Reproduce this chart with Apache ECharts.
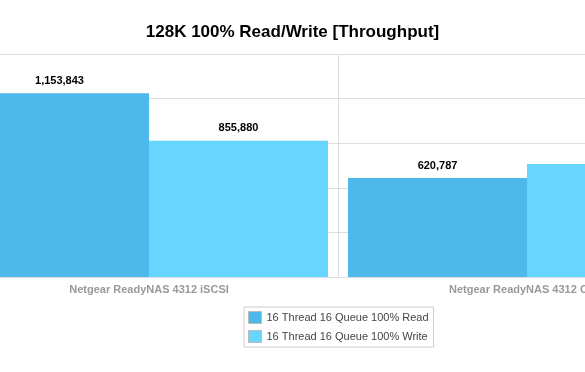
<!DOCTYPE html>
<html><head><meta charset="utf-8">
<script src="https://cdn.jsdelivr.net/npm/echarts@6/dist/echarts.min.js"></script>
<style>html,body{margin:0;padding:0;background:#fff}#c{width:585px;height:372px}</style>
</head><body><div id="c"></div>
<script>
var categories = ["Netgear ReadyNAS 4312 iSCSI", "Netgear ReadyNAS 4312 CIFS"];
var seriesNames = ["16 Thread 16 Queue 100% Read", "16 Thread 16 Queue 100% Write"];
var readValues = [1153843, 620787];
var writeValues = [855880, 710000];
var colors = ["#4DB9EB", "#66D6FF"];

var chart = echarts.init(document.getElementById('c'));
var ff = '"Liberation Sans", Arial, Helvetica, sans-serif';
function fmt(p){ return p.value.toLocaleString('en-US'); }
var label = {show:true, position:'top', distance:7, formatter:fmt, color:'#000', fontWeight:'bold', fontSize:11, fontFamily:ff};
chart.setOption({
  animation:false,
  title:{text:'128K 100% Read/Write [Throughput]', left:'center', top:19,
    textStyle:{fontSize:17, fontWeight:'bold', color:'#000', fontFamily:ff}},
  grid:{left:-40, width:756, top:54, bottom:95, containLabel:false, outerBoundsMode:'none'},
  legend:{orient:'vertical', left:244, top:307, itemWidth:13, itemHeight:12, itemGap:6,
    padding:[4,5,4,4], borderColor:'#ccc', borderWidth:1, backgroundColor:'#fff',
    icon:'rect', data:seriesNames,
    itemStyle:{borderColor:'#bbb', borderWidth:1},
    textStyle:{fontSize:11, color:'#444', fontFamily:ff}},
  xAxis:{type:'category', data:categories,
    axisLine:{lineStyle:{color:'#ddd'}}, axisTick:{show:false},
    splitLine:{show:true, lineStyle:{color:'#ddd'}},
    axisLabel:{color:'#999', fontWeight:'bold', fontSize:11, margin:7, fontFamily:ff}},
  yAxis:{type:'value', min:0, max:1400000, interval:280000,
    axisLabel:{show:false}, axisLine:{show:false}, axisTick:{show:false},
    splitLine:{lineStyle:{color:'#ddd'}}},
  series:[
    {name:seriesNames[0], type:'bar', data:readValues, barGap:'0%', barCategoryGap:'5.3%',
     itemStyle:{color:colors[0]}, label:label},
    {name:seriesNames[1], type:'bar', data:writeValues, barGap:'0%', barCategoryGap:'5.3%',
     itemStyle:{color:colors[1]}, label:label}
  ]
});
</script></body></html>
